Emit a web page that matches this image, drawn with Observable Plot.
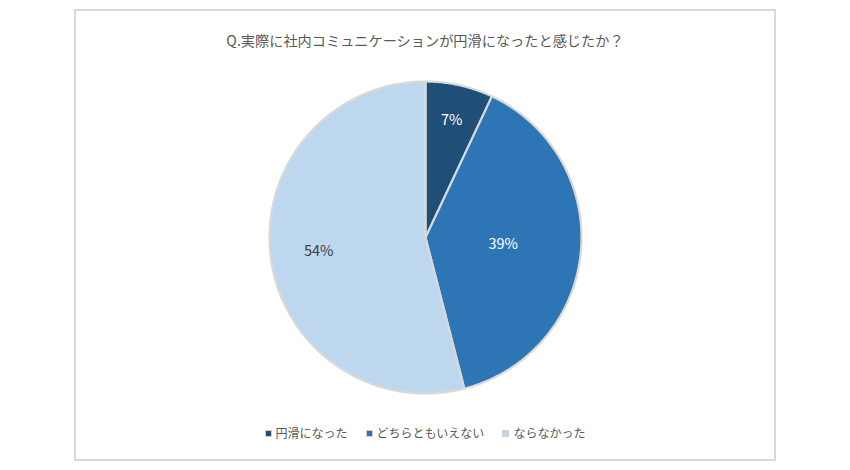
<!DOCTYPE html>
<html>
<head>
<meta charset="utf-8">
<script src="https://cdn.jsdelivr.net/npm/d3@7"></script>
<script src="https://cdn.jsdelivr.net/npm/@observablehq/plot@0.6"></script>
<style>
  html, body { margin: 0; padding: 0; background: #ffffff; }
  body { width: 850px; height: 470px; position: relative; overflow: hidden;
         font-family: "Noto Sans CJK JP", "Noto Sans", sans-serif; }
  #frame { position: absolute; left: 74px; top: 9px; width: 702px; height: 452px;
           box-sizing: border-box; border: 2px solid #d9d9d9; }
  #title { position: absolute; left: 74px; top: 28px; width: 702px; text-align: center;
           font-size: 14.2px; line-height: 24px; color: #595959; }
  #chart { position: absolute; left: 0; top: 60px; }
  #legend { position: absolute; left: 74px; top: 423px; width: 702px; display: flex;
            justify-content: center; font-size: 12px; line-height: 20px; color: #595959; }
  .item { display: flex; align-items: center; margin: 0 9px; }
  .sw { width: 5px; height: 5px; border: 1.5px solid #d0d0d0; margin-right: 4px; }
</style>
</head>
<body>
<div id="frame"></div>
<div id="title"></div>
<div id="chart"></div>
<div id="legend"></div>
<script>
const title = "Q.実際に社内コミュニケーションが円滑になったと感じたか？";
const categories = ["円滑になった", "どちらともいえない", "ならなかった"];
const values = [7, 39, 54];
const valueLabels = ["7%", "39%", "54%"];

const sliceColors = ["#1f4e79", "#2e75b6", "#bdd7ee"];
const labelColors = ["#ffffff", "#ffffff", "#404040"];
const labelRadius = [0.77, 0.5, 0.69];

document.getElementById("title").textContent = title;

const total = d3.sum(values);
const slices = [];
let acc = 0;
values.forEach((v, i) => {
  const a0 = acc / total * 2 * Math.PI;
  acc += v;
  const a1 = acc / total * 2 * Math.PI;
  slices.push({cat: categories[i], a0, a1, label: valueLabels[i], i});
});

// outline of each slice (center + arc), angles clockwise from 12 o'clock
const outline = [];
for (const s of slices) {
  outline.push({cat: s.cat, x: 0, y: 0});
  const n = Math.max(2, Math.ceil((s.a1 - s.a0) / 0.01));
  for (let k = 0; k <= n; k++) {
    const a = s.a0 + (s.a1 - s.a0) * k / n;
    outline.push({cat: s.cat, x: Math.sin(a), y: Math.cos(a)});
  }
}

const labelPts = slices.map(s => {
  const m = (s.a0 + s.a1) / 2, r = labelRadius[s.i];
  return {x: r * Math.sin(m), y: r * Math.cos(m), label: s.label, color: labelColors[s.i]};
});

const W = 850, H = 354, R = 156, cx = 425, cy = 177;
const plot = Plot.plot({
  width: W, height: H,
  marginLeft: cx - R, marginRight: W - cx - R,
  marginTop: cy - R, marginBottom: H - cy - R,
  x: {domain: [-1, 1], axis: null},
  y: {domain: [-1, 1], axis: null},
  color: {type: "ordinal", domain: categories, range: sliceColors},
  style: {fontFamily: "'Noto Sans CJK JP', 'Noto Sans', sans-serif", background: "transparent"},
  marks: [
    Plot.line(outline, {x: "x", y: "y", z: "cat", fill: "cat", stroke: "#d9d9d9",
      strokeWidth: 2.2, strokeLinejoin: "round", curve: "linear-closed"}),
    Plot.text(labelPts, {x: "x", y: "y", text: "label", fill: "color", fontSize: 14.5})
  ]
});
document.getElementById("chart").appendChild(plot);

const legend = document.getElementById("legend");
categories.forEach((c, i) => {
  const item = document.createElement("div");
  item.className = "item";
  const sw = document.createElement("span");
  sw.className = "sw";
  sw.style.background = sliceColors[i];
  const t = document.createElement("span");
  t.textContent = c;
  item.appendChild(sw);
  item.appendChild(t);
  legend.appendChild(item);
});
</script>
</body>
</html>
